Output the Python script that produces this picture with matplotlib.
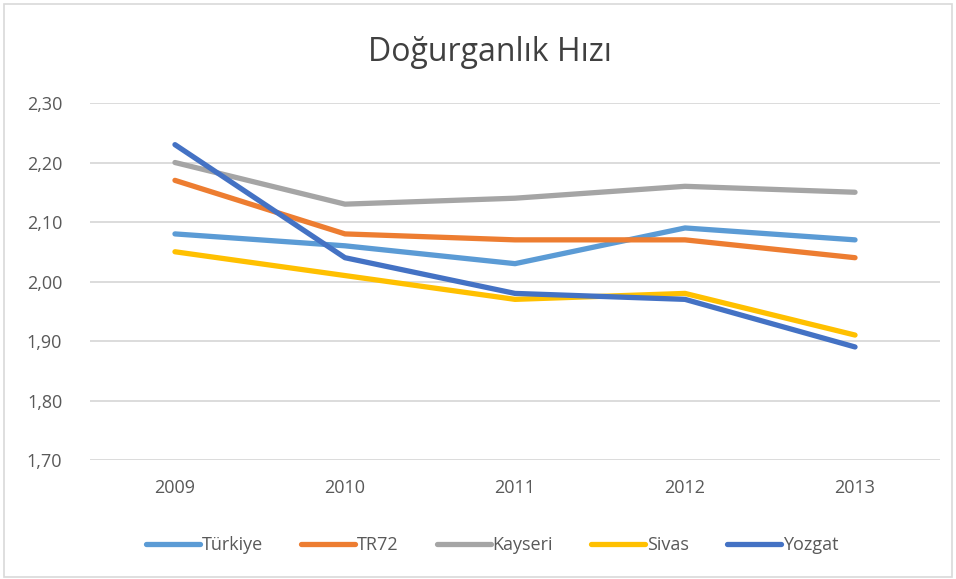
import matplotlib.pyplot as plt
from matplotlib.patches import Rectangle

# data
years = ['2009', '2010', '2011', '2012', '2013']
turkiye = [2.08, 2.06, 2.03, 2.09, 2.07]
tr72 = [2.17, 2.08, 2.07, 2.07, 2.04]
kayseri = [2.20, 2.13, 2.14, 2.16, 2.15]
sivas = [2.05, 2.01, 1.97, 1.98, 1.91]
yozgat = [2.23, 2.04, 1.98, 1.97, 1.89]

series = [('Türkiye', turkiye, '#5B9BD5'),
          ('TR72', tr72, '#ED7D31'),
          ('Kayseri', kayseri, '#A5A5A5'),
          ('Sivas', sivas, '#FFC000'),
          ('Yozgat', yozgat, '#4472C4')]

plt.rcParams['font.family'] = ['Open Sans', 'DejaVu Sans']

fig = plt.figure(figsize=(9.56, 5.79), dpi=100)
ax = fig.add_axes([0.0941, 0.2055, 0.8892, 0.6166])

x = range(len(years))
for name, vals, color in series:
    ax.plot(x, vals, color=color, lw=3.8, label=name,
            solid_capstyle='round', solid_joinstyle='round')

ax.set_xlim(-0.5, len(years) - 0.5)
ax.set_ylim(1.70, 2.30)
yt = [1.70, 1.80, 1.90, 2.00, 2.10, 2.20, 2.30]
ax.set_yticks(yt)
ax.set_yticklabels(['{:.2f}'.format(v).replace('.', ',') for v in yt])
ax.set_xticks(list(x))
ax.set_xticklabels(years)
ax.tick_params(length=0, labelsize=13, colors='#595959')
ax.tick_params(axis='x', pad=14)
ax.tick_params(axis='y', pad=20)
ax.grid(axis='y', color='#D9D9D9', lw=1.3)
ax.set_axisbelow(True)
for s in ax.spines.values():
    s.set_visible(False)

fig.text(0.513, 0.91, 'Doğurganlık Hızı', ha='center', va='center',
         fontsize=23, color='#404040')

ax.legend(loc='center', bbox_to_anchor=(0.473, -0.238), ncol=5, frameon=False,
          fontsize=13, handlelength=3.0, handletextpad=0.1, columnspacing=2.1,
          labelcolor='#595959')

# thin chart border like the office export
fig.patches.append(Rectangle((0.004, 0.004), 0.992, 0.989, transform=fig.transFigure,
                             fill=False, edgecolor='#D9D9D9', lw=1.2))

fig.savefig('out.png', dpi=100)
